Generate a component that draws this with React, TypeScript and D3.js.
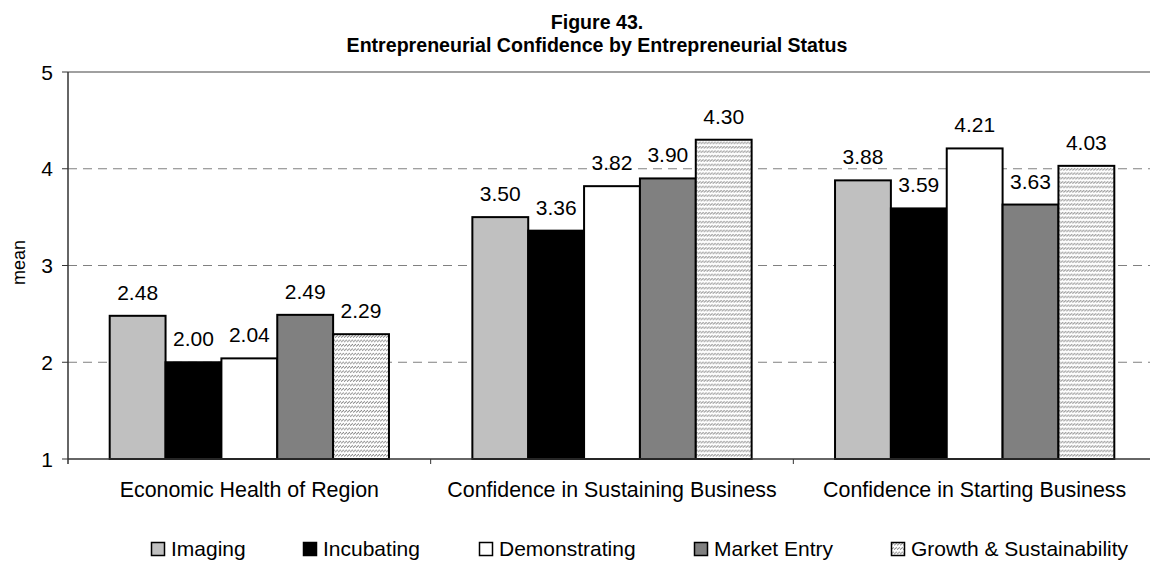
import React from 'react'
import * as d3 from 'd3'

const categories = ['Economic Health of Region', 'Confidence in Sustaining Business', 'Confidence in Starting Business']
const seriesNames = ['Imaging', 'Incubating', 'Demonstrating', 'Market Entry', 'Growth & Sustainability']
const imaging = [2.48, 3.5, 3.88]
const incubating = [2.0, 3.36, 3.59]
const demonstrating = [2.04, 3.82, 4.21]
const marketEntry = [2.49, 3.9, 3.63]
const growth = [2.29, 4.3, 4.03]
const yTicks = [1, 2, 3, 4, 5]

const fills = ['#c0c0c0', '#000000', '#ffffff', '#808080', 'url(#hatch)']
const font = 'Arial, "Liberation Sans", sans-serif'

export default () => {
  const W = 1150
  const H = 563
  const left = 68
  const top = 72
  const bottom = 459
  const right = 1156

  const series = [imaging, incubating, demonstrating, marketEntry, growth]

  const x0 = d3.scaleBand().domain(categories).range([left, right]).paddingInner(0).paddingOuter(0)
  const groupPad = 41.7
  const x1 = d3
    .scaleBand()
    .domain(seriesNames)
    .range([groupPad, x0.bandwidth() - groupPad])
  const y = d3.scaleLinear().domain([1, 5]).range([bottom, top])

  const legendX = [151, 303, 479, 694, 891]

  return (
    <svg width={W} height={H} style={{ position: 'absolute', left: 0, top: 0, background: '#fff' }} fontFamily={font}>
      <defs>
        <pattern id="hatch" width="3" height="4.4" patternUnits="userSpaceOnUse">
          <rect width="3" height="4.4" fill="#fff" />
          <path d="M0,3.2 L3,1" stroke="#7a7a7a" strokeWidth="1" />
        </pattern>
      </defs>

      <text x={597} y={29} textAnchor="middle" fontWeight="bold" fontSize={19.6}>
        Figure 43.
      </text>
      <text x={597} y={52} textAnchor="middle" fontWeight="bold" fontSize={19.6}>
        Entrepreneurial Confidence by Entrepreneurial Status
      </text>

      {/* grid */}
      {yTicks
        .filter((t) => t > 1 && t < 5)
        .map((t) => (
          <line key={t} x1={left} x2={right} y1={y(t)} y2={y(t)} stroke="#808080" strokeDasharray="9,6" strokeWidth={1} />
        ))}
      <line x1={left} x2={right} y1={y(5)} y2={y(5)} stroke="#808080" strokeWidth={1.5} />

      {/* bars */}
      {categories.map((c, ci) => (
        <g key={c} transform={`translate(${x0(c)},0)`}>
          {seriesNames.map((s, si) => {
            const v = series[si][ci]
            const bx = x1(s) as number
            return (
              <g key={s}>
                <rect
                  x={bx}
                  y={y(v)}
                  width={x1.bandwidth()}
                  height={bottom - y(v)}
                  fill={fills[si]}
                  stroke="#000"
                  strokeWidth={2}
                />
                <text x={bx + x1.bandwidth() / 2} y={y(v) - 16} textAnchor="middle" fontSize={21}>
                  {v.toFixed(2)}
                </text>
              </g>
            )
          })}
        </g>
      ))}

      {/* axes */}
      <line x1={left} x2={right} y1={bottom} y2={bottom} stroke="#333" strokeWidth={1.5} />
      <line x1={left} x2={left} y1={top} y2={bottom + 5} stroke="#333" strokeWidth={1.5} />
      {yTicks.map((t) => (
        <g key={t}>
          <line x1={left - 6} x2={left} y1={y(t)} y2={y(t)} stroke="#333" strokeWidth={1} />
          <text x={53} y={y(t) + 7.5} textAnchor="end" fontSize={21}>
            {t}
          </text>
        </g>
      ))}
      {categories.slice(1).map((c) => (
        <line key={c} x1={x0(c)} x2={x0(c)} y1={bottom} y2={bottom + 5} stroke="#333" strokeWidth={1} />
      ))}
      {categories.map((c) => (
        <text key={c} x={(x0(c) as number) + x0.bandwidth() / 2} y={497} textAnchor="middle" fontSize={21.4}>
          {c}
        </text>
      ))}
      <text transform={`translate(25,${(top + bottom) / 2 - 3}) rotate(-90)`} textAnchor="middle" fontSize={18}>
        mean
      </text>

      {/* legend */}
      {seriesNames.map((s, i) => (
        <g key={s} transform={`translate(${legendX[i]},542)`}>
          <rect x={0.5} y={0.5} width={13} height={13} fill={fills[i]} stroke="#000" strokeWidth={1.5} />
          <text x={20} y={14} fontSize={21}>
            {s}
          </text>
        </g>
      ))}
    </svg>
  )
}
